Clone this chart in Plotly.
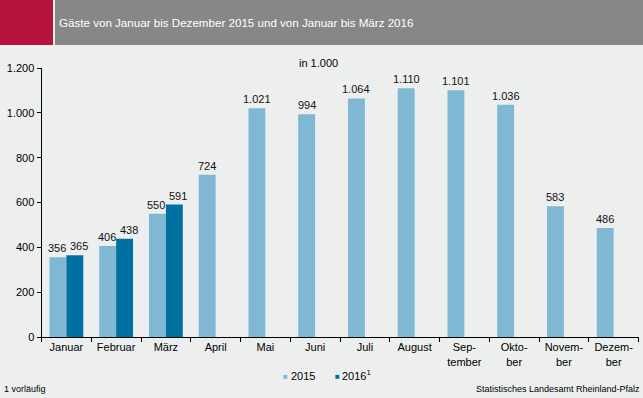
import plotly.graph_objects as go

months = ["Januar", "Februar", "März", "April", "Mai", "Juni", "Juli", "August",
          "Sep-<br>tember", "Okto-<br>ber", "Novem-<br>ber", "Dezem-<br>ber"]
v2015 = [356, 406, 550, 724, 1021, 994, 1064, 1110, 1101, 1036, 583, 486]
v2016 = [365, 438, 591, None, None, None, None, None, None, None, None, None]
series_names = ["2015", "2016"]
colors = ["#80B8D3", "#0070A0"]

def fmt(v):
    return f"{v:,}".replace(",", ".")

W, H = 643, 398
font = "Liberation Sans, Arial, sans-serif"
BW = 0.34  # bar width in category units

fig = go.Figure()
fig.add_bar(x=months, y=v2015, name=series_names[0], marker_color=colors[0],
            marker_line_width=0, width=BW, offset=-BW, showlegend=False, hoverinfo="skip")
fig.add_bar(x=months, y=v2016, name=series_names[1], marker_color=colors[1],
            marker_line_width=0, width=BW, offset=0, showlegend=False, hoverinfo="skip")

annotations = []
for i, (a, b) in enumerate(zip(v2015, v2016)):
    annotations.append(dict(text=fmt(a), x=i - BW / 2, y=a, xref="x", yref="y",
                            xanchor="center", yanchor="bottom", yshift=1,
                            xshift=-1 if b is not None else 0,
                            showarrow=False, font=dict(size=11, color="#111111")))
    if b is not None:
        annotations.append(dict(text=fmt(b), x=i + BW / 2, y=b, xref="x", yref="y",
                                xanchor="center", yanchor="bottom", yshift=1, xshift=4,
                                showarrow=False, font=dict(size=11, color="#111111")))

annotations += [
    dict(text="Gäste von Januar bis Dezember 2015 und von Januar bis März 2016",
         xref="paper", yref="paper", x=57 / W, y=1 - 23 / H, xanchor="left", yanchor="middle",
         showarrow=False, font=dict(size=11.6, color="#FFFFFF")),
    dict(text="in 1.000", xref="paper", yref="paper", x=318 / W, y=1 - 63 / H,
         xanchor="center", yanchor="middle", showarrow=False, font=dict(size=11)),
    # legend
    dict(text=f"<span style='color:{colors[0]}'>■</span>", xref="paper", yref="paper",
         x=285 / W, y=1 - 376 / H, xanchor="center", yanchor="middle", showarrow=False,
         font=dict(size=8)),
    dict(text=series_names[0], xref="paper", yref="paper", x=289 / W, y=1 - 376 / H,
         xanchor="left", yanchor="middle", showarrow=False, font=dict(size=11)),
    dict(text=f"<span style='color:{colors[1]}'>■</span>", xref="paper", yref="paper",
         x=337 / W, y=1 - 376 / H, xanchor="center", yanchor="middle", showarrow=False,
         font=dict(size=8)),
    dict(text=series_names[1] + "<sup>1</sup>", xref="paper", yref="paper", x=340 / W,
         y=1 - 375 / H, xanchor="left", yanchor="middle", showarrow=False,
         font=dict(size=11)),
    dict(text="1 vorläufig", xref="paper", yref="paper", x=2 / W, y=1 - 389 / H,
         xanchor="left", yanchor="middle", showarrow=False, font=dict(size=9)),
    dict(text="Statistisches Landesamt Rheinland-Pfalz", xref="paper", yref="paper",
         x=1 - 1 / W, y=1 - 389 / H, xanchor="right", yanchor="middle", showarrow=False,
         font=dict(size=9)),
]

fig.update_layout(
    width=W, height=H,
    margin=dict(l=0, r=0, t=0, b=0, pad=0, autoexpand=False),
    paper_bgcolor="#EDEFEF", plot_bgcolor="#EDEFEF",
    font=dict(family=font, size=11, color="#000000"),
    barmode="group",
    showlegend=False,
    hovermode=False,
    xaxis=dict(domain=[41.5 / W, 638.5 / W], showline=True, linecolor="#000", linewidth=1,
               ticks="outside", ticklen=4, tickcolor="#000", tickson="boundaries",
               showgrid=False, tickfont=dict(size=11), range=[-0.5, 11.5],
               automargin=False, fixedrange=True),
    yaxis=dict(domain=[61 / H, 330 / H], range=[0, 1200], showline=True, linecolor="#000",
               linewidth=1, ticks="outside", ticklen=4, tickcolor="#000", dtick=200,
               tickformat=",d", showgrid=False, zeroline=False,
               tickfont=dict(size=11), automargin=False, fixedrange=True),
    separators=",.",
    shapes=[
        dict(type="rect", xref="paper", yref="paper", x0=0, x1=53 / W, y0=1 - 45 / H, y1=1,
             fillcolor="#B5123E", line_width=0),
        dict(type="rect", xref="paper", yref="paper", x0=55 / W, x1=1, y0=1 - 45 / H, y1=1,
             fillcolor="#878787", line_width=0),
    ],
    annotations=annotations,
)

post = """
document.documentElement.style.margin='0';document.documentElement.style.padding='0';
document.body.style.margin='0';document.body.style.padding='0';
document.documentElement.style.overflow='hidden';document.body.style.overflow='hidden';
"""
fig.write_html("out.html", config={"displayModeBar": False, "staticPlot": True},
               post_script=post)
